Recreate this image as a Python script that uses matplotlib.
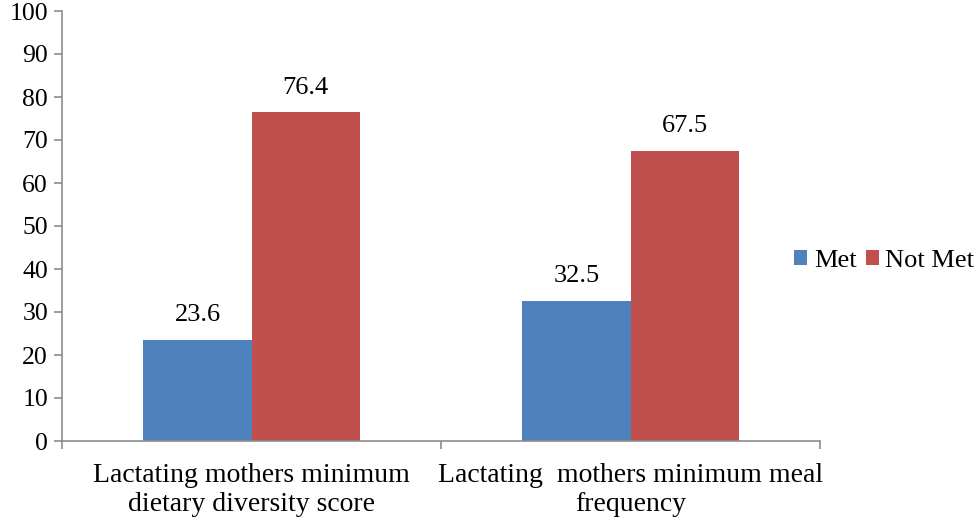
import matplotlib
matplotlib.use("Agg")
import matplotlib.pyplot as plt
import numpy as np

categories = ["Lactating mothers minimum\ndietary diversity score",
              "Lactating  mothers minimum meal\nfrequency"]
series_names = ["Met", "Not Met"]
met = [23.6, 32.5]
not_met = [76.4, 67.5]
colors = ["#4F81BD", "#C0504D"]
yticks = list(range(0, 101, 10))

plt.rcParams['font.family'] = ['Liberation Serif', 'DejaVu Serif']

fig = plt.figure(figsize=(9.8, 5.22), dpi=100)
ax = fig.add_axes([62/980, 1-441/522, (820-62)/980, (441-11)/522])

x = np.arange(len(categories))
w = 0.285
b1 = ax.bar(x - w/2, met, w, color=colors[0], label=series_names[0])
b2 = ax.bar(x + w/2, not_met, w, color=colors[1], label=series_names[1])
for bars, vals in ((b1, met), (b2, not_met)):
    for r, v in zip(bars, vals):
        ax.text(r.get_x() + r.get_width()/2, v + 3.2, f"{v}", ha='center', va='bottom', fontsize=19)

ax.set_xlim(-0.5, len(categories) - 0.5)
ax.set_ylim(0, 100)
ax.set_yticks(yticks)
ax.tick_params(axis='y', labelsize=18.5, length=6, color='#8C8C8C', width=1.2, pad=4)
ax.set_xticks([-0.5, 0.5, 1.5])
ax.set_xticklabels([])
ax.tick_params(axis='x', length=6, color='#8C8C8C', width=1.2)
ax.set_xticks(x, minor=True)
ax.set_xticklabels(categories, minor=True, fontsize=20, linespacing=1.2)
ax.tick_params(axis='x', which='minor', length=0, pad=16)
for s in ['top', 'right']:
    ax.spines[s].set_visible(False)
for s in ['left', 'bottom']:
    ax.spines[s].set_color('#8C8C8C')
    ax.spines[s].set_linewidth(1.2)

fig.legend(loc='center left', bbox_to_anchor=(794/980, 1-261/522), ncol=2, frameon=False,
           fontsize=19, handlelength=0.5, handleheight=0.5, handletextpad=0.25,
           columnspacing=0.35, borderaxespad=0, borderpad=0)

fig.savefig("out.png", dpi=100)
